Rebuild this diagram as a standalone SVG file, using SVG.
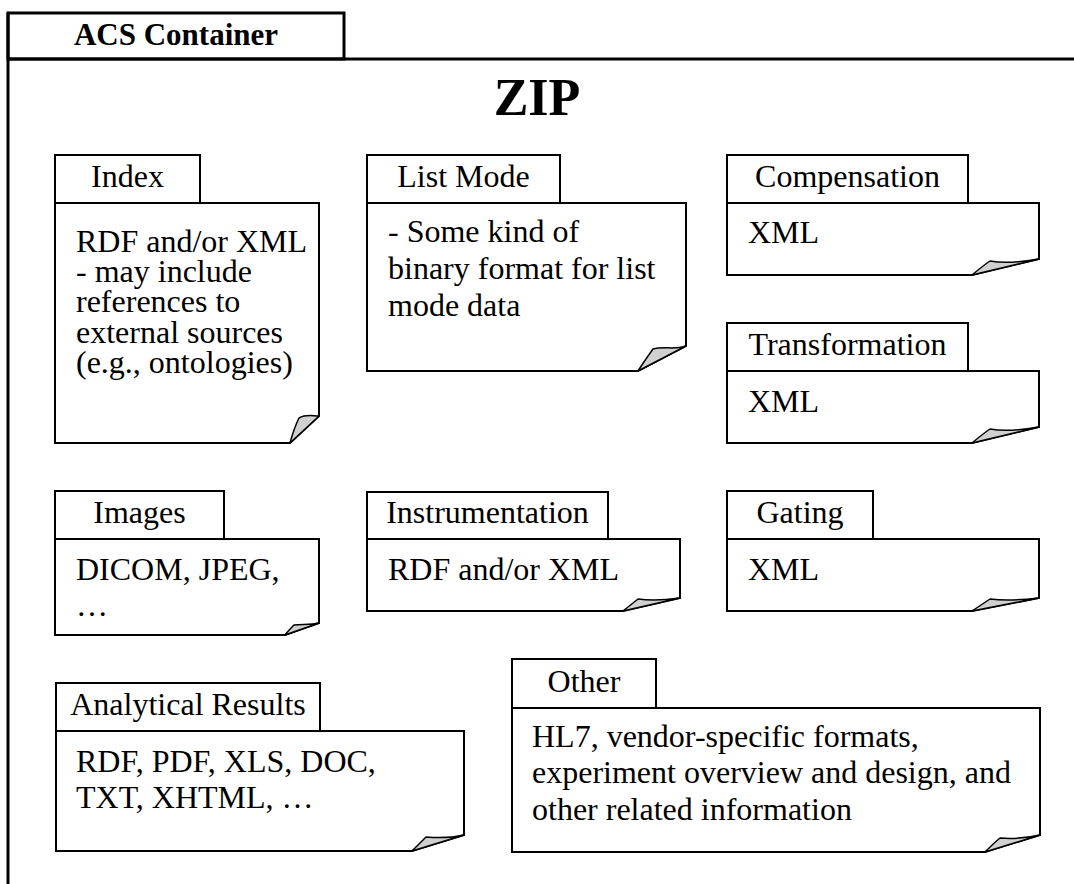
<svg xmlns="http://www.w3.org/2000/svg" width="1074" height="884" viewBox="0 0 1074 884">
<style>
.t{font-family:"Liberation Serif","Times New Roman",serif;font-size:32px;fill:#000}
.c{text-anchor:middle}
.box{fill:#fff;stroke:#000;stroke-width:2}
.fold{fill:#d0d0d0;stroke:#000;stroke-width:1.5;stroke-linejoin:round}
.cont{fill:none;stroke:#000;stroke-width:3}
</style>
<rect width="1074" height="884" fill="#fff"/>
<g id="container">
<rect class="cont" x="8" y="13" width="336" height="46"/>
<path class="cont" d="M8,59 L1074,59 M8,13 L8,884"/>
<text class="t c" x="176" y="45" style="font-weight:bold;font-size:31px">ACS Container</text>
<text class="t c" x="537" y="115" style="font-weight:bold;font-size:52px">ZIP</text>
</g>
<g id="index">
<rect class="box" x="55" y="155" width="145" height="48"/>
<path class="box" d="M55,203 L319,203 L319,416 L290,443 L55,443 Z"/>
<path class="fold" d="M319,416 L290,443 C293,432 296,424 299,418 C306,414 312,416 319,416 Z"/>
<text class="t c" x="127.5" y="187">Index</text>
<text class="t" x="76" y="252"><tspan x="76" y="252">RDF and/or XML</tspan><tspan x="76" y="282">- may include</tspan><tspan x="76" y="312">references to</tspan><tspan x="76" y="343">external sources</tspan><tspan x="76" y="373">(e.g., ontologies)</tspan></text>
</g>
<g id="listmode">
<rect class="box" x="367" y="155" width="193" height="48"/>
<path class="box" d="M367,203 L686,203 L686,346 L638,371 L367,371 Z"/>
<path class="fold" d="M686,346 L638,371 C643,363 648,356 653,349 C664,346 675,350 686,346 Z"/>
<text class="t c" x="463.5" y="187">List Mode</text>
<text class="t" x="388" y="242"><tspan x="388" y="242">- Some kind of</tspan><tspan x="388" y="279">binary format for list</tspan><tspan x="388" y="316">mode data</tspan></text>
</g>
<g id="compensation">
<rect class="box" x="727" y="155" width="241" height="48"/>
<path class="box" d="M727,203 L1039,203 L1039,259 L972,275 L727,275 Z"/>
<path class="fold" d="M1039,259 L972,275 C978,270 984,265 990,261 C1006,264 1022,262 1039,259 Z"/>
<text class="t c" x="847.5" y="187">Compensation</text>
<text class="t" x="748" y="243">XML</text>
</g>
<g id="transformation">
<rect class="box" x="727" y="323" width="241" height="48"/>
<path class="box" d="M727,371 L1039,371 L1039,427 L972,443 L727,443 Z"/>
<path class="fold" d="M1039,427 L972,443 C978,438 984,433 990,429 C1006,432 1022,430 1039,427 Z"/>
<text class="t c" x="847.5" y="355">Transformation</text>
<text class="t" x="748" y="412">XML</text>
</g>
<g id="images">
<rect class="box" x="55" y="491" width="169" height="48"/>
<path class="box" d="M55,539 L319,539 L319,623 L285,635 L55,635 Z"/>
<path class="fold" d="M319,623 L285,635 C288,631 291,628 294,625 C302,624 310,625 319,623 Z"/>
<text class="t c" x="139.5" y="523">Images</text>
<text class="t" x="76" y="580"><tspan x="76" y="580">DICOM, JPEG,</tspan><tspan x="76" y="616">…</tspan></text>
</g>
<g id="instrumentation">
<rect class="box" x="367" y="492" width="241" height="47"/>
<path class="box" d="M367,539 L680,539 L680,598 L623,611 L367,611 Z"/>
<path class="fold" d="M680,598 L623,611 C628,607 633,603 638,599 C652,601 666,600 680,598 Z"/>
<text class="t c" x="487.5" y="523">Instrumentation</text>
<text class="t" x="388" y="580">RDF and/or XML</text>
</g>
<g id="gating">
<rect class="box" x="727" y="491" width="146" height="48"/>
<path class="box" d="M727,539 L1039,539 L1039,598 L972,611 L727,611 Z"/>
<path class="fold" d="M1039,598 L972,611 C978,607 984,603 990,599 C1006,601 1022,600 1039,598 Z"/>
<text class="t c" x="800" y="523">Gating</text>
<text class="t" x="748" y="580">XML</text>
</g>
<g id="analytical">
<rect class="box" x="56" y="683" width="264" height="48"/>
<path class="box" d="M56,731 L464,731 L464,835 L412,851 L56,851 Z"/>
<path class="fold" d="M464,835 L412,851 C417,846 421,842 426,837 C439,838 451,838 464,835 Z"/>
<text class="t c" x="188" y="715">Analytical Results</text>
<text class="t" x="76" y="772"><tspan x="76" y="772">RDF, PDF, XLS, DOC,</tspan><tspan x="76" y="808">TXT, XHTML, …</tspan></text>
</g>
<g id="other">
<rect class="box" x="512" y="659" width="144" height="49"/>
<path class="box" d="M512,708 L1040,708 L1040,835 L985,852 L512,852 Z"/>
<path class="fold" d="M1040,835 L985,852 C990,847 995,842 1000,838 C1013,839 1027,838 1040,835 Z"/>
<text class="t c" x="584" y="692">Other</text>
<text class="t" x="532" y="747"><tspan x="532" y="747">HL7, vendor-specific formats,</tspan><tspan x="532" y="783">experiment overview and design, and</tspan><tspan x="532" y="820">other related information</tspan></text>
</g>
<g id="connectors"/>
</svg>
